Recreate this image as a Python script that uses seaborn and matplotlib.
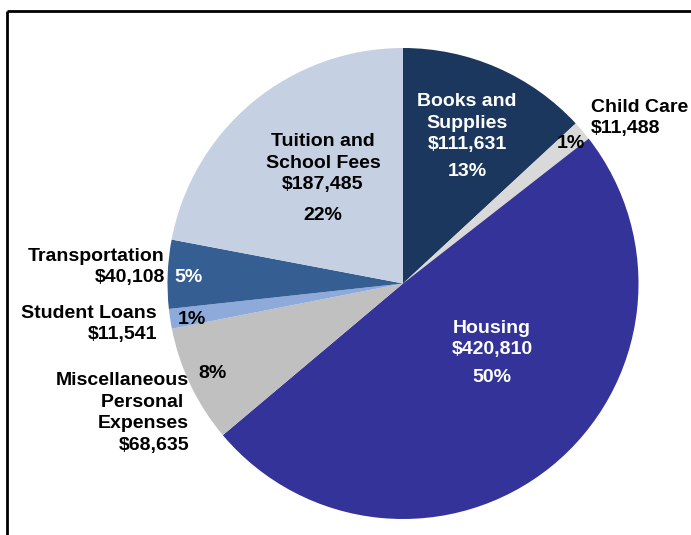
import matplotlib
matplotlib.use("Agg")
import matplotlib.pyplot as plt
import seaborn as sns

sns.set_style("white")
plt.rcParams['font.family'] = ['Liberation Sans', 'DejaVu Sans']

# data (clockwise from 12 o'clock)
categories = ['Books and\nSupplies', 'Child Care', 'Housing',
              'Miscellaneous\nPersonal \nExpenses', 'Student Loans',
              'Transportation', 'Tuition and\nSchool Fees']
amounts = [111631, 11488, 420810, 68635, 11541, 40108, 187485]
amount_labels = ['$111,631', '$11,488', '$420,810', '$68,635',
                 '$11,541', '$40,108', '$187,485']
pct_labels = ['13%', '1%', '50%', '8%', '1%', '5%', '22%']
colors = ['#1b375e', '#d9d9d9', '#333399', '#c0c0c0',
          '#8eaadb', '#355f92', '#c5d0e3']

fig = plt.figure(figsize=(6.91, 5.35), dpi=100)
ax = fig.add_axes([0, 0, 1, 1])

H = 535
cx, cy, r = 403, H - 283.5, 235.5
ax.pie(amounts, colors=colors, startangle=90, counterclock=False,
       radius=r, center=(cx, cy), wedgeprops=dict(linewidth=0))
ax.set_xlim(0, 691)
ax.set_ylim(0, H)
ax.set_aspect('equal')
ax.axis('off')

# frame (only top and left visible in crop)
ax.plot([7, 691], [H - 11, H - 11], color='black', lw=2, solid_capstyle='butt')
ax.plot([7, 7], [0, H - 11], color='black', lw=2, solid_capstyle='butt')

fs = 14
kw = dict(fontsize=fs, fontweight='bold', linespacing=1.35)

def t(x, y, s, ha='center', c='black', va='center'):
    ax.text(x, H - y, s, ha=ha, va=va, color=c, **kw)

# inside labels
t(467, 123, categories[0] + '\n' + amount_labels[0], c='white')
t(467, 172, pct_labels[0], c='white')
t(492, 339, categories[2].replace('\n', ' ') + '\n' + amount_labels[2], c='white')
t(492, 377, pct_labels[2], c='white')
t(323, 163, categories[6] + '\n' + amount_labels[6])
t(323, 216, pct_labels[6])

# outside labels
t(591, 118, categories[1] + '\n' + amount_labels[1], ha='left')
t(571, 143, pct_labels[1])
t(165, 267, categories[5] + '\n' + amount_labels[5], ha='right')
t(189, 278, pct_labels[5], c='white')
t(157, 324, categories[4] + '\n' + amount_labels[4], ha='right')
t(192, 320, pct_labels[4])
t(189, 413, categories[3] + '\n' + amount_labels[3], ha='right')
t(213, 373, pct_labels[3])

fig.savefig('out.png', dpi=100)
